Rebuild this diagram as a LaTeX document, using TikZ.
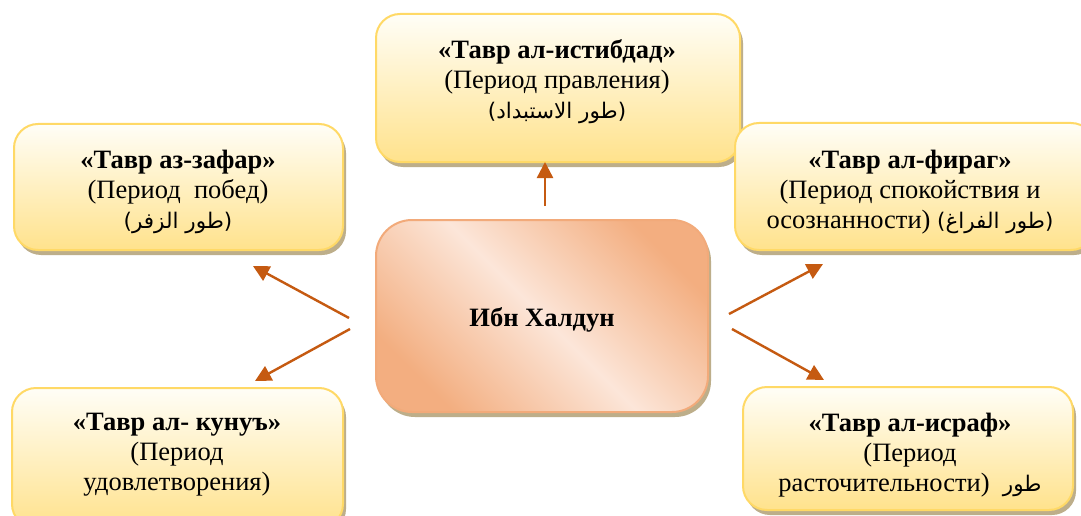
\documentclass[tikz,border=0pt]{standalone}
\usepackage{fontspec}
\setmainfont{Liberation Serif}
\newfontfamily\arabicfont[Script=Arabic]{DejaVu Sans}
\TeXXeTstate=1
\usetikzlibrary{arrows.meta,shadows}
\definecolor{ybord}{HTML}{FFD966}
\definecolor{ytop}{HTML}{FFFEF7}
\definecolor{ybot}{HTML}{FFE28C}
\definecolor{pdark}{HTML}{F3AE80}
\definecolor{plight}{HTML}{FCE6D9}
\definecolor{pbord}{HTML}{F2AA7A}
\definecolor{shad}{HTML}{BDAE8A}
\definecolor{arrc}{HTML}{C55A11}
\newcommand\arabtxt[1]{{\arabicfont\fontsize{21.5}{30}\selectfont\beginR#1\endR}}
\tikzset{
  boxshadow/.style={drop shadow={shadow xshift=3pt, shadow yshift=-5pt, fill=shad, opacity=1}},
  ybox/.style={draw=ybord, line width=2pt, rounded corners=24pt,
    top color=ytop, bottom color=ybot, boxshadow},
  cbox/.style={draw=pbord, line width=2pt, rounded corners=36pt,
    top color=pdark, bottom color=pdark, middle color=plight, shading angle=-45, boxshadow},
  lbl/.style={align=center, font=\fontsize{26.5}{30}\selectfont, inner sep=0pt},
  arr/.style={draw=arrc, line width=2.4pt, -{Triangle[length=16pt,width=16pt]}}
}
\begin{document}
\begin{tikzpicture}[x=1pt,y=-1pt]
\useasboundingbox (0,0) rectangle (1081,516);
\fill[white] (0,0) rectangle (1081,516);
% boxes
\node[ybox, minimum width=364pt, minimum height=148pt] (top) at (558,88) {};
\node[ybox, minimum width=360pt, minimum height=127pt] (rt) at (915,186.5) {};
\node[ybox, minimum width=329pt, minimum height=126pt] (lt) at (178.5,187) {};
\node[ybox, minimum width=331pt, minimum height=140pt] (lb) at (177.5,458) {};
\node[ybox, minimum width=330pt, minimum height=123pt] (rb) at (908,448.5) {};
\node[cbox, minimum width=332pt, minimum height=192pt] (center) at (542,316) {};
% texts
\node[lbl] (ttop) at (557,82) {\textbf{«Тавр ал-истибдад»}\\(Период правления)\\\arabtxt{(طور الاستبداد)}};
\node[lbl] (tlt) at (178,192) {\textbf{«Тавр аз-зафар»}\\(Период~ побед)\\\arabtxt{(طور الزفر)}};
\node[lbl] (trt) at (910,192) {\textbf{«Тавр ал-фираг»}\\(Период спокойствия и\\осознанности) \arabtxt{(طور الفراغ)}};
\node[lbl] (tlb) at (177,455) {\textbf{«Тавр ал- кунуъ»}\\(Период\\удовлетворения)};
\node[lbl] (trb) at (910,455) {\textbf{«Тавр ал-исраф»}\\(Период\\расточительности)~ \arabtxt{طور}};
\node[lbl] (tc) at (542,320) {\textbf{Ибн Халдун}};
% arrow ends
\coordinate (s1) at (545,206); \coordinate (e1) at (545,162);
\coordinate (s2) at (349,318); \coordinate (e2) at (253,266);
\coordinate (s3) at (350,329); \coordinate (e3) at (255,381);
\coordinate (s4) at (729,314); \coordinate (e4) at (823,264);
\coordinate (s5) at (732,329); \coordinate (e5) at (824,380);
\draw[arr] (s1) -- (e1);
\draw[arr] (s2) -- (e2);
\draw[arr] (s3) -- (e3);
\draw[arr] (s4) -- (e4);
\draw[arr] (s5) -- (e5);
\end{tikzpicture}
\end{document}
